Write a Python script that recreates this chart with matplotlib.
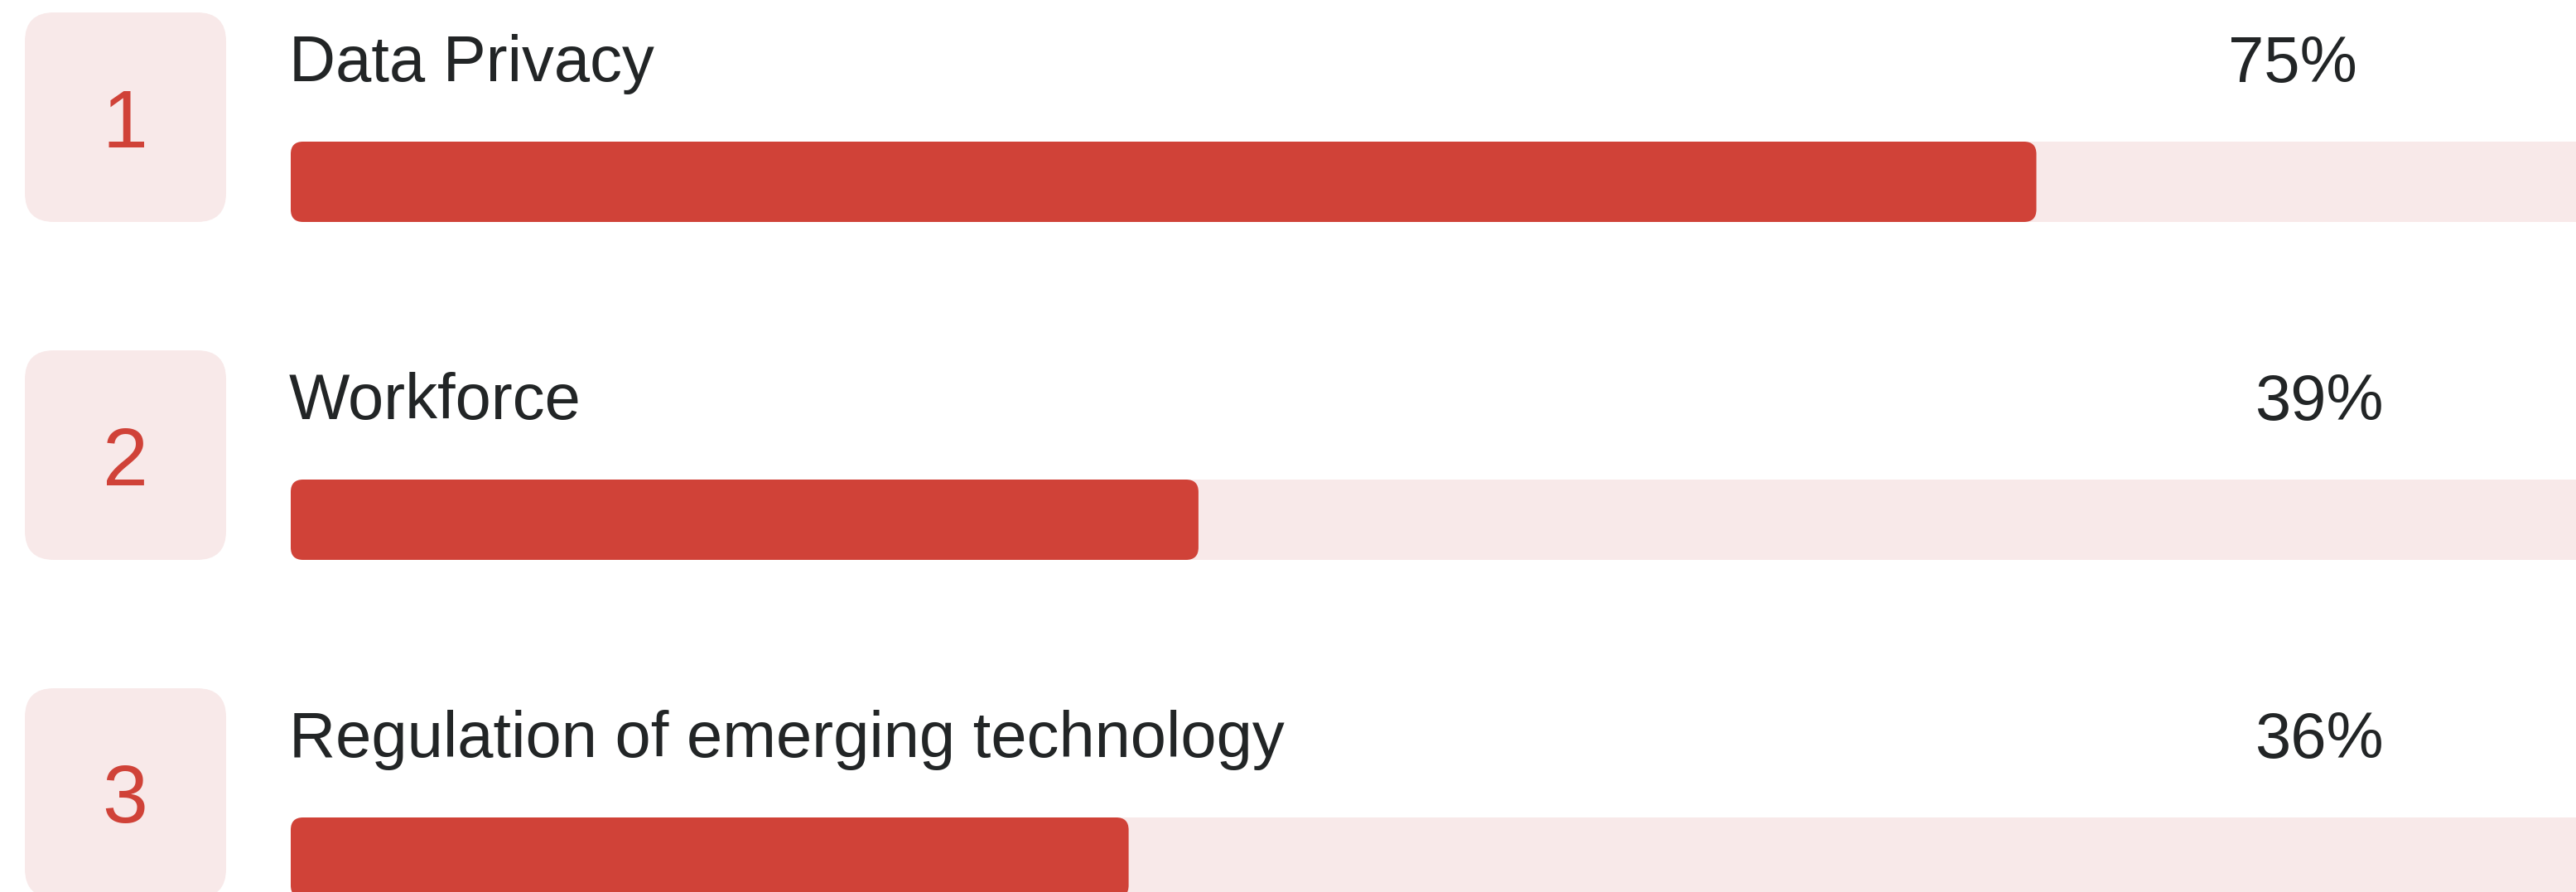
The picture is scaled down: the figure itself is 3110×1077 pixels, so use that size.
import matplotlib
matplotlib.use("Agg")
import matplotlib.pyplot as plt
from matplotlib.patches import FancyBboxPatch

# ---- data ----
ranks = ["1", "2", "3"]
categories = ["Data Privacy", "Workforce", "Regulation of emerging technology"]
values = [75, 39, 36]
value_labels = ["75%", "39%", "36%"]

# ---- style ----
RED = "#D04238"
PINK = "#F8E9E9"
TEXT = "#222526"
W, H, DPI = 3110, 1077, 100
PX_PER_UNIT = 28.1      # pixels per percentage point
X0 = 351                # pixel where 0% lies
ROW = 408               # row pitch in pixels
plt.rcParams['font.family'] = ['Liberation Sans', 'DejaVu Sans']

fig = plt.figure(figsize=(W / DPI, H / DPI), dpi=DPI)
ax = fig.add_axes([0, 0, 1, 1])
ax.set_xlim(-X0 / PX_PER_UNIT, (W - X0) / PX_PER_UNIT)
ax.set_ylim(H, 0)
ax.axis("off")

def px(x):
    return (x - X0) / PX_PER_UNIT

aspect = PX_PER_UNIT  # y units (px) per x unit for rounded corners
label_left_px = [2690, 2722, 2722]

for i, (rk, cat, v, lab) in enumerate(zip(ranks, categories, values, value_labels)):
    top = 15 + i * ROW
    # rank box
    bx0, bx1 = px(30), px(273)
    ax.add_patch(FancyBboxPatch((bx0, top), bx1 - bx0, 253,
                                boxstyle=f"round,pad=0,rounding_size={35 / PX_PER_UNIT}",
                                mutation_aspect=aspect, fc=PINK, ec="none"))
    ax.text(px(151), top + 127, rk, ha="center", va="center_baseline",
            fontsize=71, color=RED)
    # category label
    ax.text(px(349), top + 83, cat, ha="left", va="baseline",
            fontsize=56, color=TEXT)
    # value label
    ax.text(px(label_left_px[i]), top + 84, lab, ha="left", va="baseline",
            fontsize=56, color=TEXT)
    # track
    bar_top = top + 156
    ax.add_patch(FancyBboxPatch((0, bar_top), 100, 97,
                                boxstyle=f"round,pad=0,rounding_size={15 / PX_PER_UNIT}",
                                mutation_aspect=aspect, fc=PINK, ec="none"))
    # fill
    ax.add_patch(FancyBboxPatch((0, bar_top), v, 97,
                                boxstyle=f"round,pad=0,rounding_size={15 / PX_PER_UNIT}",
                                mutation_aspect=aspect, fc=RED, ec="none"))

fig.savefig("out.png", dpi=DPI, facecolor="white")
